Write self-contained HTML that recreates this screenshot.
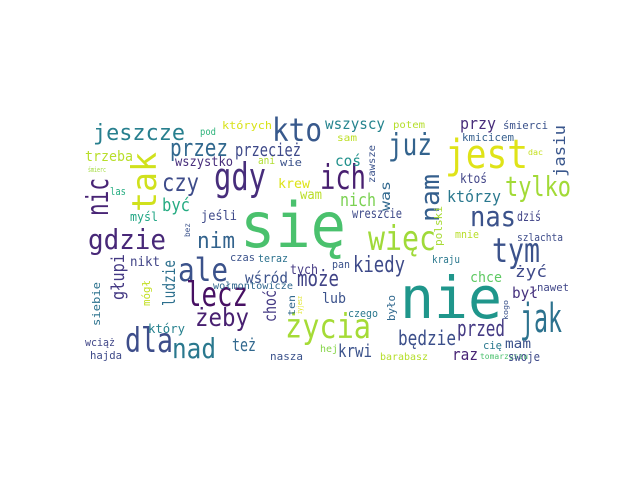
<!DOCTYPE html>
<html><head><meta charset="utf-8"><style>
html,body{margin:0;padding:0;background:#fff;}
svg text{font-family:"DejaVu Sans Mono","Liberation Mono",monospace;}
</style></head><body>
<svg id="cloud" width="640" height="480" viewBox="0 0 640 480" xmlns="http://www.w3.org/2000/svg">
<rect width="640" height="480" fill="#fff"/>
<g id="words"></g>
</svg>
<script>
const words = ["się","nie","jest","jak","tym","więc","życia","gdy","ich","kto","już","tak","nic","jeszcze","przez","przecież","czy","gdzie","nim","ale","lecz","dla","nad","żeby","może","kiedy","nas","tylko","nam","będzie","przed","krwi","głupi","ludzie","też","choć","wszyscy","potem","przy","śmierci","jasiu","sam","kmicicem","dac","coś","zawsze","ktoś","którzy","was","polski","nich","wreszcie","dziś","mnie","szlachta","kraju","pan","chce","żyć","nawet","był","lub","było","czego","kogo","hej","barabasz","raz","cię","mam","tomarzyszu","swoje","trzeba","śmierc","pod","których","wszystko","ani","wie","krew","wam","las","być","myśl","jeśli","bez","nikt","czas","teraz","tych","wśród","wołmontowicze","mógł","siebie","ten","żyjesz","który","wciąż","hajda","nasza"];
const sizes = [62,58,40,40,34,34,34,38,34,32,30,34,30,22,24,18,25,28,22,32,34,34,28,25,22,22,28,28,26,20,22,18,18,17,18,17,15,10,16,11,16,10,11,8,15,10,13,16,13,11,18,13,13,11,11,11,11,14,16,11,15,14,11,11,7,10,10,16,11,13,8,12,14,7,10,11,13,11,11,13,13,11,18,12,13,8,13,11,11,13,15,10,11,11,10,7,12,11,11,11];
const colors = ["#4ac16d","#1f968b","#dfe318","#2c728e","#3b528b","#a0da39","#a5db36","#472d7b","#481f70","#38598c","#33638d","#d0e11c","#482475","#277f8e","#31688e","#3e4989","#3e4c8a","#482878","#33638d","#3b528b","#471063","#3d4d8a","#2a788e","#482071","#414487","#3e4a89","#3b528b","#a2da37","#355f8d","#3c4f8a","#443a83","#3b528b","#443983","#2d708e","#31688e","#443983","#25848e","#b5de2b","#472c7a","#3b528b","#39568c","#bddf26","#355f8d","#c5e021","#21918c","#3b528b","#414487","#2a788e","#31688e","#a8db34","#7ad151","#3e4a89","#414487","#b8de29","#3e4c8a","#2a788e","#3b528b","#5ec962","#3e4989","#404688","#46327e","#3b528b","#31688e","#2a788e","#3b528b","#86d549","#b5de2b","#482475","#2a788e","#3b528b","#4ac16d","#3e4a89","#b8de29","#a0da39","#2fb47c","#d8e219","#472d7b","#b0dd2f","#3b528b","#dde318","#bade28","#26ad81","#25ab82","#21a685","#3e4989","#3b528b","#414487","#3b528b","#2c728e","#443983","#3b528b","#31688e","#c2df23","#2c728e","#31688e","#dde318","#26818e","#404688","#3e4a89","#3b528b"];
const vertical = [0,0,0,0,0,0,0,0,0,0,0,1,1,0,0,0,0,0,0,0,0,0,0,0,0,0,0,0,1,0,0,0,1,1,0,1,0,0,0,0,1,0,0,0,0,1,0,0,1,1,0,0,0,0,0,0,0,0,0,0,0,0,1,0,1,0,0,0,0,0,0,0,0,0,0,0,0,0,0,0,0,0,0,0,0,1,0,0,0,0,0,0,1,1,1,1,0,0,0,0];
const layout = [
[240,247,106],[400,318,102],[445,168,83],[520,332,42],[492,262,48],[368,250,68],[285,338,86],[214,190,52],[320,189,46],[272,141,50],
[388,155,44],[156,212,60],[108,216,38],[93,140,92],[170,156,58],[235,156,66],[162,191,37],[88,249,78],[197,248,38],[178,281,50],
[186,306,62],[125,352,48],[172,358,44],[195,326,54],[297,286,42],[353,272,52],[470,226,46],[505,196,66],[439,222,48],[398,345,58],
[457,336,48],[338,357,34],[124,300,46],[175,306,46],[232,351,24],[276,322,32],[325,129,60],[393,128,32],[460,129,36],[503,129,45],
[565,177,52],[337,141,20],[462,141,52],[528,155,15],[335,166,26],[375,183,38],[460,183,27],[447,202,54],[390,211,30],[442,246,40],
[340,206,36],[352,218,50],[517,221,24],[455,238,24],[517,241,46],[432,263,28],[332,268,18],[470,282,32],[515,277,32],[537,291,32],
[512,298,26],[322,303,24],[395,321,26],[348,317,30],[508,320,20],[320,352,18],[380,360,48],[452,360,26],[483,349,19],[505,348,26],
[480,359,48],[508,361,32],[85,161,48],[88,172,18],[200,135,16],[222,129,50],[175,166,58],[258,164,17],[280,166,22],[278,188,32],
[300,199,22],[110,195,16],[162,211,28],[130,221,28],[201,220,36],[190,237,14],[130,266,30],[230,261,25],[258,262,30],[290,274,28],
[245,283,43],[213,289,80],[150,306,26],[100,326,44],[295,316,21],[302,314,18],[148,333,37],[85,346,30],[90,359,32],[270,360,33]];

const g = document.getElementById('words');
const NS = 'http://www.w3.org/2000/svg';
for (let i = 0; i < words.length; i++) {
  const t = document.createElementNS(NS, 'text');
  
  
  const [a, b, len] = layout[i];
  t.setAttribute('font-size', sizes[i]);
  t.setAttribute('fill', colors[i]);
  t.setAttribute('textLength', len);
  t.setAttribute('lengthAdjust', 'spacingAndGlyphs');
  if (vertical[i]) {
    t.setAttribute('transform', 'translate(' + a + ',' + b + ') rotate(-90)');
    t.setAttribute('x', 0);
    t.setAttribute('y', 0);
  } else {
    t.setAttribute('x', a);
    t.setAttribute('y', b);
  }
  t.textContent = words[i];
  g.appendChild(t);
}
</script>
</body></html>
